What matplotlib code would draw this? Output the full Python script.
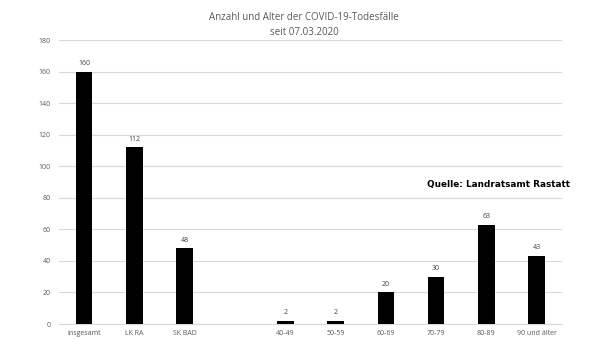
import numpy as np
import matplotlib.pyplot as plt

# Todesfaelle nach Gebiet und Altersgruppe
kategorien = ['insgesamt', 'LK RA', 'SK BAD', '', '40-49', '50-59',
              '60-69', '70-79', '80-89', '90 und älter']
werte = [160, 112, 48, None, 2, 2, 20, 30, 63, 43]
yticks = list(range(0, 181, 20))

plt.rcParams['font.family'] = ['Open Sans', 'DejaVu Sans']

fig = plt.figure(figsize=(6.08, 3.42), dpi=100)
ax = fig.add_axes([0.097, 0.0526, 0.827, 0.830])

x = np.arange(len(kategorien))
for i, v in enumerate(werte):
    if v is None:
        continue
    ax.bar(x[i], v, width=0.33, color='black', zorder=3)
    ax.text(x[i], v + 3, str(v), ha='center', va='bottom', fontsize=5, color='#404040')

ax.set_xlim(-0.5, len(kategorien) - 0.5)
ax.set_ylim(0, 180)
ax.set_yticks(yticks)
ax.set_xticks(x)
ax.set_xticklabels(kategorien)
ax.tick_params(axis='both', length=0, labelsize=5, colors='#595959')
ax.tick_params(axis='y', pad=6)
ax.tick_params(axis='x', pad=4)
ax.grid(axis='y', color='#d9d9d9', linewidth=0.8, zorder=0)
for s in ['top', 'right', 'left']:
    ax.spines[s].set_visible(False)
ax.spines['bottom'].set_color('#d9d9d9')
ax.spines['bottom'].set_linewidth(0.8)

fig.text(0.5, 0.965, 'Anzahl und Alter der COVID-19-Todesfälle\nseit 07.03.2020',
         ha='center', va='top', fontsize=7, color='#595959', linespacing=1.5)
fig.text(0.702, 0.452, 'Quelle: Landratsamt Rastatt', fontsize=6.4, fontweight='bold',
         family='DejaVu Sans', color='black')

plt.savefig('out.png', dpi=100)
